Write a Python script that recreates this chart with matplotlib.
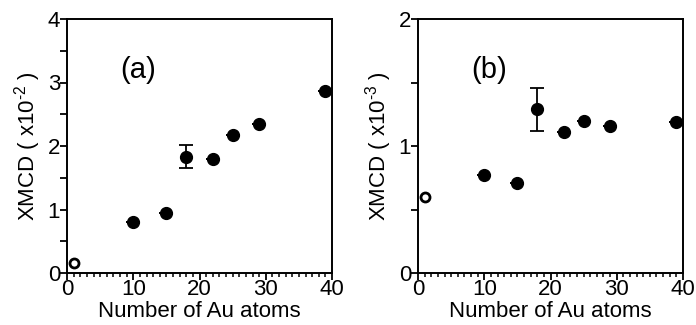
import matplotlib
matplotlib.use("Agg")
import matplotlib.pyplot as plt
from matplotlib.ticker import MultipleLocator

plt.rcParams['font.family'] = ['Liberation Sans', 'DejaVu Sans']
plt.rcParams['mathtext.fontset'] = 'custom'
plt.rcParams['mathtext.rm'] = 'Liberation Sans'

# Panel (a)
a_open_x = [1]
a_open_y = [0.15]
a_x = [10, 15, 18, 22, 25, 29, 39]
a_y = [0.80, 0.95, 1.83, 1.80, 2.18, 2.35, 2.87]
a_err = [0, 0, 0.18, 0, 0, 0, 0]

# Panel (b)
b_open_x = [1]
b_open_y = [0.60]
b_x = [10, 15, 18, 22, 25, 29, 39]
b_y = [0.77, 0.71, 1.29, 1.11, 1.20, 1.16, 1.19]
b_err = [0, 0, 0.17, 0, 0, 0, 0]

fig = plt.figure(figsize=(6.96, 3.25), dpi=100)
W, H = 696, 325
axA = fig.add_axes([67 / W, 1 - 273 / H, (332 - 67) / W, (273 - 19) / H])
axB = fig.add_axes([418 / W, 1 - 273 / H, (683 - 418) / W, (273 - 19) / H])

def style(ax, ymax, label, exp):
    ax.set_xlim(0, 40)
    ax.set_ylim(0, ymax)
    ax.xaxis.set_major_locator(MultipleLocator(10))
    ax.xaxis.set_minor_locator(MultipleLocator(1))
    ax.yaxis.set_major_locator(MultipleLocator(1))
    ax.yaxis.set_minor_locator(MultipleLocator(0.5))
    ax.tick_params(axis='both', which='major', direction='out', length=5, width=1.3, labelsize=16, pad=0)
    ax.tick_params(axis='x', which='major', pad=-1)
    ax.tick_params(axis='x', which='minor', direction='out', length=3, width=1.1)
    ax.tick_params(axis='y', which='minor', direction='out', length=5, width=1.3)
    for s in ax.spines.values():
        s.set_linewidth(1.4)
    ax.set_xlabel('Number of Au atoms', fontsize=16, labelpad=1)
    ax.set_ylabel('XMCD ( x10$^{\\text{%s}}$ )' % exp, fontsize=16, labelpad=3)
    ax.text(0.27, 0.80, label, transform=ax.transAxes, fontsize=21, ha='center', va='center')

axA.errorbar(a_x, a_y, yerr=a_err, fmt='o', color='black', markersize=8.5,
             capsize=5, elinewidth=1.3, capthick=1.3)
axA.plot(a_open_x, a_open_y, 'o', markerfacecolor='white', markeredgecolor='black',
         markersize=6.5, markeredgewidth=2, clip_on=False)
style(axA, 4, '(a)', '-2')

axB.errorbar(b_x, b_y, yerr=b_err, fmt='o', color='black', markersize=8.5,
             capsize=5, elinewidth=1.3, capthick=1.3)
axB.plot(b_open_x, b_open_y, 'o', markerfacecolor='white', markeredgecolor='black',
         markersize=6.5, markeredgewidth=2, clip_on=False)
style(axB, 2, '(b)', '-3')

fig.savefig('out.png', dpi=100)
